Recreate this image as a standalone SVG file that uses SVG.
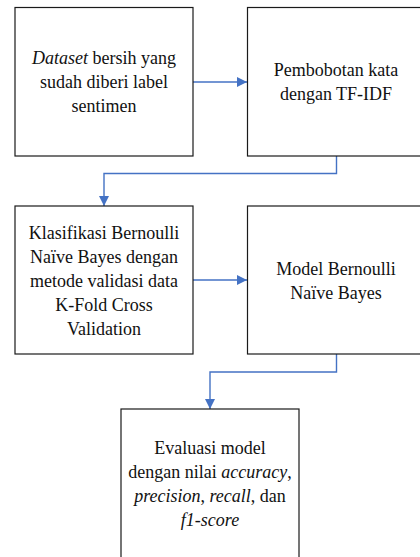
<svg xmlns="http://www.w3.org/2000/svg" width="420" height="557" viewBox="0 0 420 557">
<defs>
<marker id="ah" viewBox="0 0 10 10" refX="10" refY="5" markerWidth="10" markerHeight="10" markerUnits="userSpaceOnUse" orient="auto">
<path d="M0,0 L10,5 L0,10 Z" fill="#4472C4"/>
</marker>
</defs>
<rect width="420" height="557" fill="#fff"/>
<g id="connectors" fill="none" stroke="#4472C4" stroke-width="1.4">
<path d="M193,82 H247" marker-end="url(#ah)"/>
<path d="M336.5,156 V173.5 H104 V206" marker-end="url(#ah)"/>
<path d="M193,280 H247" marker-end="url(#ah)"/>
<path d="M336.5,354 V372 H210 V409" marker-end="url(#ah)"/>
</g>
<g id="n1">
<rect x="15" y="7.5" width="178" height="148.5" fill="#fff" stroke="#1a1a1a" stroke-width="1.2"/>
<text x="104" y="63.5" font-family="Liberation Serif, Tinos, serif" font-size="18" fill="#111" text-anchor="middle"><tspan font-style="italic">Dataset</tspan> bersih yang</text>
<text x="104" y="87.5" font-family="Liberation Serif, Tinos, serif" font-size="18" fill="#111" text-anchor="middle">sudah diberi label</text>
<text x="104" y="111.5" font-family="Liberation Serif, Tinos, serif" font-size="18" fill="#111" text-anchor="middle">sentimen</text>
</g>
<g id="n2">
<rect x="247.5" y="7.5" width="178" height="148.5" fill="#fff" stroke="#1a1a1a" stroke-width="1.2"/>
<text x="336" y="76" font-family="Liberation Serif, Tinos, serif" font-size="18" fill="#111" text-anchor="middle">Pembobotan kata</text>
<text x="336" y="100" font-family="Liberation Serif, Tinos, serif" font-size="18" fill="#111" text-anchor="middle">dengan TF-IDF</text>
</g>
<g id="n3">
<rect x="15" y="206" width="178" height="148" fill="#fff" stroke="#1a1a1a" stroke-width="1.2"/>
<text x="104" y="238.5" font-family="Liberation Serif, Tinos, serif" font-size="18" fill="#111" text-anchor="middle">Klasifikasi Bernoulli</text>
<text x="104" y="262.5" font-family="Liberation Serif, Tinos, serif" font-size="18" fill="#111" text-anchor="middle">Naïve Bayes dengan</text>
<text x="104" y="286.5" font-family="Liberation Serif, Tinos, serif" font-size="18" fill="#111" text-anchor="middle">metode validasi data</text>
<text x="104" y="310.5" font-family="Liberation Serif, Tinos, serif" font-size="18" fill="#111" text-anchor="middle">K-Fold Cross</text>
<text x="104" y="334.5" font-family="Liberation Serif, Tinos, serif" font-size="18" fill="#111" text-anchor="middle">Validation</text>
</g>
<g id="n4">
<rect x="247.5" y="206" width="178" height="148" fill="#fff" stroke="#1a1a1a" stroke-width="1.2"/>
<text x="336" y="275" font-family="Liberation Serif, Tinos, serif" font-size="18" fill="#111" text-anchor="middle">Model Bernoulli</text>
<text x="336" y="299" font-family="Liberation Serif, Tinos, serif" font-size="18" fill="#111" text-anchor="middle">Naïve Bayes</text>
</g>
<g id="n5">
<rect x="121" y="409" width="178" height="152" fill="#fff" stroke="#1a1a1a" stroke-width="1.2"/>
<text x="210" y="454" font-family="Liberation Serif, Tinos, serif" font-size="18" fill="#111" text-anchor="middle">Evaluasi model</text>
<text x="210" y="478" font-family="Liberation Serif, Tinos, serif" font-size="18" fill="#111" text-anchor="middle">dengan nilai <tspan font-style="italic">accuracy</tspan>,</text>
<text x="210" y="502" font-family="Liberation Serif, Tinos, serif" font-size="18" fill="#111" text-anchor="middle"><tspan font-style="italic">precision</tspan>, <tspan font-style="italic">recall</tspan>, dan</text>
<text x="210" y="526" font-family="Liberation Serif, Tinos, serif" font-size="18" font-style="italic" fill="#111" text-anchor="middle">f1-score</text>
</g>
</svg>
